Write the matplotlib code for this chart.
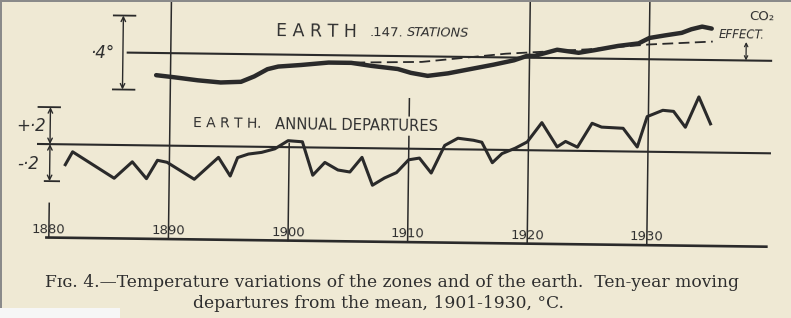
import matplotlib
matplotlib.use("Agg")
import matplotlib.pyplot as plt
import matplotlib.transforms as mtransforms
from matplotlib.patches import Rectangle

# Earth, 147 stations - ten-year moving departures (deg C)
stations_years = [1888.8, 1890.3, 1892.3, 1894.2, 1895.9, 1897.0, 1898.1, 1899.0,
                  1900.9, 1903.2, 1905.1, 1906.8, 1909.0, 1910.1, 1911.5, 1913.2,
                  1915.1, 1917.0, 1918.7, 1919.8, 1920.4, 1922.3, 1924.1, 1925.4,
                  1927.4, 1929.1, 1930.0, 1931.3, 1932.7, 1933.5, 1934.4, 1935.2]
stations_dep = [-0.12, -0.13, -0.145, -0.155, -0.15, -0.12, -0.08, -0.065,
                -0.055, -0.04, -0.04, -0.055, -0.07, -0.09, -0.105, -0.09,
                -0.065, -0.04, -0.015, 0.01, 0.01, 0.045, 0.03, 0.045,
                0.07, 0.085, 0.115, 0.13, 0.145, 0.165, 0.18, 0.17]

# Earth - annual departures (deg C)
annual_years = [1881.3, 1881.9, 1885.4, 1886.9, 1888.1, 1889.0, 1889.8, 1892.1,
                1894.1, 1895.1, 1895.7, 1896.6, 1897.7, 1898.8, 1899.9, 1901.1,
                1902.0, 1903.0, 1904.1, 1905.1, 1906.1, 1907.0, 1908.0, 1909.0,
                1910.0, 1910.9, 1911.9, 1913.0, 1914.1, 1915.4, 1916.1, 1917.0,
                1917.8, 1918.9, 1919.9, 1921.1, 1922.4, 1923.1, 1924.1, 1925.3,
                1926.1, 1927.9, 1929.1, 1929.9, 1931.2, 1932.1, 1933.1, 1934.2,
                1935.2]
annual_dep = [-0.11, -0.04, -0.18, -0.09, -0.18, -0.08, -0.09, -0.18,
              -0.06, -0.16, -0.06, -0.04, -0.03, -0.01, 0.035, 0.03,
              -0.15, -0.08, -0.12, -0.13, -0.05, -0.20, -0.16, -0.13,
              -0.06, -0.05, -0.13, 0.02, 0.06, 0.05, 0.04, -0.07,
              -0.02, 0.01, 0.045, 0.15, 0.02, 0.05, 0.02, 0.15,
              0.13, 0.125, 0.025, 0.19, 0.225, 0.22, 0.135, 0.30,
              0.155]

# CO2 effect (dashed line over the stations curve)
co2_years = [1904, 1911, 1918, 1925, 1930, 1935.3]
co2_dep = [-0.04, -0.03, 0.02, 0.05, 0.08, 0.10]

decades = [1880, 1890, 1900, 1910, 1920, 1930]
decade_labels = ["1880", "1890", "1900", "1910", "1920", "1930"]

stations_offset = 0.5   # upper curve is drawn 0.5 deg above the annual one
paper = "#efe9d4"
ink = "#2a2a2a"

fig = plt.figure(figsize=(7.91, 3.18), dpi=100, facecolor=paper)
ax = fig.add_axes([0, 0, 1, 1])
ax.set_axis_off()
ax.set_facecolor(paper)
ax.set_xlim(1880 - 50 / 11.96, 1880 + 741 / 11.96)
ax.set_ylim(-174 / 185, 144 / 185)

# the scan is slightly tilted
tilt = -0.73
tr = ax.transData + mtransforms.Affine2D().rotate_deg_around(40, 174, tilt)

# decade lines
grid_bottom = -0.505
grid_tops = [-0.32, 0.9, 0.02, 0.27, 0.9, 0.9]
for yr, top in zip(decades, grid_tops):
    ax.plot([yr, yr], [grid_bottom, top], color=ink, lw=1.1, transform=tr)

# base lines
ax.plot([1879.8, 1940.0], [grid_bottom, grid_bottom], color=ink, lw=1.9, transform=tr)
ax.plot([1879.0, 1940.2], [0, 0], color=ink, lw=1.5, transform=tr)
ax.plot([1886.4, 1940.2], [stations_offset, stations_offset], color=ink, lw=1.5, transform=tr)

# data
ax.plot(annual_years, annual_dep, color=ink, lw=2.2, solid_joinstyle="round", transform=tr)
ax.plot(stations_years, [v + stations_offset for v in stations_dep], color=ink, lw=3.2,
        solid_capstyle="round", transform=tr)
ax.plot(co2_years, [v + stations_offset for v in co2_dep], color=ink, lw=1.3,
        dashes=(6, 3), transform=tr)

# scale brackets
arrow = dict(arrowstyle="<->", color=ink, lw=1.0, shrinkA=0, shrinkB=0, mutation_scale=8)
ax.annotate("", xy=(1886.0, stations_offset + 0.2), xytext=(1886.0, stations_offset - 0.2),
            xycoords=tr, textcoords=tr, arrowprops=arrow)
ax.plot([1885.2, 1887.0], [stations_offset + 0.2] * 2, color=ink, lw=1.3, transform=tr)
ax.plot([1885.2, 1887.0], [stations_offset - 0.2] * 2, color=ink, lw=1.3, transform=tr)

ax.annotate("", xy=(1880.0, 0.2), xytext=(1880.0, 0), xycoords=tr, textcoords=tr, arrowprops=arrow)
ax.annotate("", xy=(1880.0, -0.2), xytext=(1880.0, 0), xycoords=tr, textcoords=tr, arrowprops=arrow)
ax.plot([1879.0, 1880.8], [0.2, 0.2], color=ink, lw=1.3, transform=tr)
ax.plot([1879.6, 1880.8], [-0.2, -0.2], color=ink, lw=1.3, transform=tr)

small_arrow = dict(arrowstyle="<->", color=ink, lw=0.9, shrinkA=0, shrinkB=0, mutation_scale=6)
ax.annotate("", xy=(1938.1, stations_offset + 0.1), xytext=(1938.1, stations_offset),
            xycoords=tr, textcoords=tr, arrowprops=small_arrow)

# hand lettering
hand = dict(color="#303030", family="DejaVu Sans", transform=tr, rotation=tilt,
            rotation_mode="anchor", va="center", ha="left")
ax.text(1898.8, 0.627, "E A R T H", fontsize=12.5, **hand)
ax.text(1906.6, 0.627, ".147.", fontsize=9.5, **hand)
ax.text(1909.7, 0.627, "STATIONS", fontsize=9.3, style="italic", **hand)
ax.text(1891.9, 0.122, "E A R T H.", fontsize=10, **hand)
ax.text(1898.8, 0.122, "ANNUAL DEPARTURES", fontsize=10.6,
        bbox=dict(facecolor=paper, edgecolor="none", pad=1.5), **hand)
ax.text(1938.3, 0.74, "CO₂", fontsize=9.5, **hand)
ax.text(1935.8, 0.641, "EFFECT.", fontsize=8.5, style="italic", **hand)

ax.text(1884.3, 0.496, "·4°", fontsize=12, style="italic", color="#303030",
        transform=tr, ha="center", va="center")
ax.text(1878.4, 0.097, "+·2", fontsize=12, style="italic", color="#303030",
        transform=tr, ha="center", va="center")
ax.text(1878.2, -0.108, "-·2", fontsize=12, style="italic", color="#303030",
        transform=tr, ha="center", va="center")

for yr, lab in zip(decades, decade_labels):
    ax.text(yr, -0.462, lab, fontsize=9.5, color="#303030", transform=tr,
            rotation=tilt, rotation_mode="anchor", ha="center", va="center")

# caption
cap = dict(color="#2e2e2e", family="DejaVu Serif", transform=tr,
           ha="center", va="center", fontsize=12.3)
ax.text(1908.7, -0.722,
        "Fɪɢ. 4.—Temperature variations of the zones and of the earth.  Ten-year moving", **cap)
ax.text(1907.6, -0.838, "departures from the mean, 1901-1930, °C.", **cap)

# scan edges
fig.patches.append(Rectangle((0, 1 - 2 / 318), 1, 2 / 318, transform=fig.transFigure,
                             facecolor="#8a8a8a", edgecolor="none"))
fig.patches.append(Rectangle((0, 0), 2 / 791, 1, transform=fig.transFigure,
                             facecolor="#8a8a8a", edgecolor="none"))
fig.patches.append(Rectangle((0, 0), 120 / 791, 10 / 318, transform=fig.transFigure,
                             facecolor="#f6f6f6", edgecolor="none"))

fig.savefig("out.png", dpi=100, facecolor=paper)
